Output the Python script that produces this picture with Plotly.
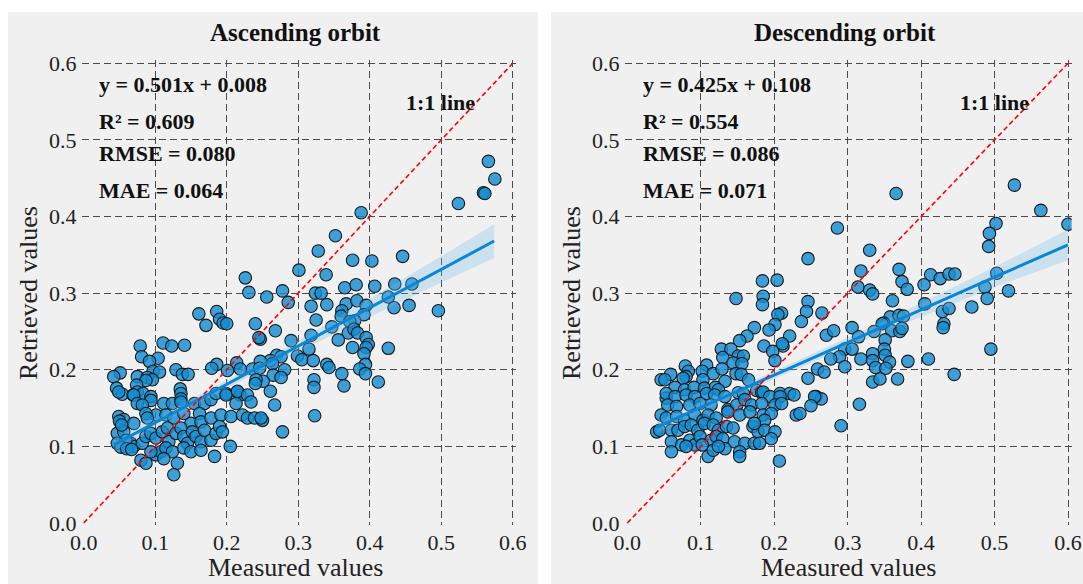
import plotly.graph_objects as go

# ---------------- data ----------------
TITLES = ["Ascending orbit", "Descending orbit"]
X_LABEL = "Measured values"
Y_LABEL = "Retrieved values"
TICK_VALS = [0.0, 0.1, 0.2, 0.3, 0.4, 0.5, 0.6]
TICK_TEXT = ["0.0", "0.1", "0.2", "0.3", "0.4", "0.5", "0.6"]
ASC_STATS = ["y = 0.501x + 0.008", "R² = 0.609", "RMSE = 0.080", "MAE = 0.064"]
DESC_STATS = ["y = 0.425x + 0.108", "R² = 0.554", "RMSE = 0.086", "MAE = 0.071"]
ONE_TO_ONE_LABEL = "1:1 line"
ONE_TO_ONE = [0.0, 0.6]

ASC_POINTS = [
    (0.566, 0.472), (0.575, 0.449), (0.559, 0.431), (0.561, 0.430), (0.524, 0.417),
    (0.388, 0.405), (0.352, 0.375), (0.328, 0.355), (0.376, 0.343), (0.403, 0.342),
    (0.446, 0.348), (0.339, 0.324), (0.301, 0.330), (0.278, 0.303), (0.256, 0.295),
    (0.286, 0.288), (0.324, 0.300), (0.332, 0.300), (0.365, 0.307), (0.381, 0.311),
    (0.407, 0.309), (0.435, 0.312), (0.459, 0.312), (0.426, 0.295), (0.318, 0.283),
    (0.340, 0.285), (0.367, 0.286), (0.382, 0.290), (0.395, 0.284), (0.434, 0.281),
    (0.455, 0.284), (0.496, 0.277), (0.361, 0.277), (0.360, 0.270), (0.392, 0.272),
    (0.325, 0.265), (0.379, 0.264), (0.347, 0.256), (0.372, 0.263), (0.268, 0.251),
    (0.247, 0.240), (0.318, 0.245), (0.370, 0.248), (0.378, 0.253), (0.383, 0.248),
    (0.290, 0.238), (0.356, 0.239), (0.395, 0.242), (0.398, 0.233), (0.376, 0.229),
    (0.395, 0.229), (0.426, 0.228), (0.315, 0.227), (0.392, 0.221), (0.270, 0.219),
    (0.276, 0.217), (0.299, 0.218), (0.305, 0.213), (0.321, 0.212), (0.261, 0.212),
    (0.247, 0.211), (0.264, 0.208), (0.340, 0.207), (0.343, 0.203), (0.394, 0.207),
    (0.386, 0.201), (0.281, 0.200), (0.361, 0.195), (0.394, 0.195), (0.265, 0.193),
    (0.276, 0.190), (0.251, 0.185), (0.322, 0.187), (0.322, 0.177), (0.364, 0.179),
    (0.412, 0.184), (0.261, 0.172), (0.267, 0.154), (0.323, 0.140), (0.250, 0.134),
    (0.278, 0.119),
    (0.226, 0.320), (0.231, 0.301), (0.161, 0.273), (0.186, 0.276), (0.171, 0.258),
    (0.190, 0.266), (0.195, 0.261), (0.200, 0.260), (0.240, 0.260), (0.245, 0.242),
    (0.079, 0.231), (0.111, 0.235), (0.123, 0.231), (0.141, 0.232), (0.081, 0.217),
    (0.104, 0.215), (0.092, 0.211), (0.186, 0.207), (0.179, 0.202), (0.214, 0.209),
    (0.201, 0.199), (0.219, 0.201), (0.236, 0.201), (0.246, 0.202), (0.097, 0.198),
    (0.106, 0.197), (0.051, 0.196), (0.042, 0.191), (0.129, 0.200), (0.138, 0.194),
    (0.146, 0.194), (0.075, 0.191), (0.089, 0.190), (0.096, 0.187), (0.087, 0.186),
    (0.046, 0.176), (0.074, 0.180), (0.075, 0.171), (0.054, 0.168), (0.083, 0.169),
    (0.135, 0.175), (0.136, 0.169), (0.069, 0.167), (0.094, 0.165), (0.199, 0.169),
    (0.215, 0.171), (0.241, 0.187), (0.240, 0.182), (0.219, 0.167),
    (0.049, 0.171), (0.070, 0.167), (0.094, 0.160), (0.112, 0.156), (0.124, 0.156),
    (0.136, 0.162), (0.136, 0.158), (0.155, 0.156), (0.169, 0.156), (0.178, 0.161),
    (0.185, 0.169), (0.199, 0.167), (0.215, 0.172), (0.229, 0.167), (0.234, 0.158),
    (0.213, 0.156), (0.075, 0.156), (0.082, 0.154), (0.101, 0.141), (0.087, 0.143),
    (0.049, 0.139), (0.056, 0.135), (0.070, 0.130), (0.089, 0.137), (0.115, 0.141),
    (0.126, 0.137), (0.140, 0.143), (0.150, 0.130), (0.162, 0.143), (0.164, 0.132),
    (0.178, 0.137), (0.192, 0.141), (0.206, 0.139), (0.222, 0.141), (0.229, 0.137),
    (0.239, 0.137), (0.248, 0.137), (0.047, 0.117), (0.056, 0.119), (0.066, 0.104),
    (0.070, 0.100), (0.059, 0.108), (0.082, 0.104), (0.087, 0.113), (0.094, 0.117),
    (0.101, 0.111), (0.110, 0.119), (0.117, 0.124), (0.119, 0.106), (0.129, 0.117),
    (0.136, 0.124), (0.140, 0.113), (0.145, 0.104), (0.152, 0.119), (0.157, 0.113),
    (0.164, 0.106), (0.169, 0.121), (0.178, 0.108), (0.185, 0.117), (0.190, 0.126),
    (0.194, 0.119), (0.080, 0.082), (0.087, 0.078), (0.101, 0.089), (0.108, 0.093),
    (0.115, 0.098), (0.124, 0.093), (0.131, 0.078), (0.140, 0.098), (0.150, 0.093),
    (0.164, 0.095), (0.126, 0.063), (0.183, 0.087), (0.205, 0.100), (0.094, 0.093),
    (0.112, 0.084), (0.047, 0.104), (0.052, 0.099), (0.060, 0.097), (0.067, 0.096),
    (0.050, 0.133), (0.053, 0.128),
]

DESC_POINTS = [
    (0.527, 0.441), (0.366, 0.430), (0.563, 0.408), (0.502, 0.391), (0.600, 0.390),
    (0.493, 0.378), (0.492, 0.361), (0.286, 0.385), (0.246, 0.345), (0.330, 0.356),
    (0.318, 0.329), (0.370, 0.331), (0.374, 0.315), (0.381, 0.305), (0.314, 0.308),
    (0.330, 0.304), (0.334, 0.299), (0.413, 0.324), (0.426, 0.319), (0.438, 0.325),
    (0.446, 0.325), (0.404, 0.311), (0.503, 0.326), (0.487, 0.308), (0.490, 0.293),
    (0.519, 0.303), (0.265, 0.274), (0.361, 0.290), (0.405, 0.286), (0.429, 0.276),
    (0.438, 0.280), (0.469, 0.282), (0.358, 0.269), (0.370, 0.271), (0.376, 0.270),
    (0.431, 0.260), (0.430, 0.255), (0.306, 0.255), (0.349, 0.261), (0.347, 0.260),
    (0.336, 0.250), (0.360, 0.251), (0.371, 0.250), (0.374, 0.254), (0.271, 0.245),
    (0.281, 0.251), (0.315, 0.243), (0.351, 0.239), (0.296, 0.227), (0.306, 0.227),
    (0.350, 0.227), (0.495, 0.227), (0.351, 0.219), (0.289, 0.217), (0.277, 0.214),
    (0.318, 0.214), (0.334, 0.221), (0.334, 0.212), (0.357, 0.210), (0.382, 0.211),
    (0.410, 0.214), (0.296, 0.204), (0.338, 0.203), (0.352, 0.202), (0.259, 0.201),
    (0.268, 0.197), (0.334, 0.184), (0.344, 0.188), (0.368, 0.188), (0.445, 0.194),
    (0.257, 0.165), (0.264, 0.162), (0.316, 0.155), (0.291, 0.127),
    (0.184, 0.316), (0.204, 0.317), (0.148, 0.293), (0.185, 0.296), (0.184, 0.285),
    (0.246, 0.289), (0.244, 0.276), (0.237, 0.263), (0.210, 0.274), (0.205, 0.272),
    (0.201, 0.259), (0.193, 0.252), (0.173, 0.255), (0.163, 0.244), (0.153, 0.238),
    (0.221, 0.244), (0.186, 0.231), (0.212, 0.231), (0.211, 0.234), (0.198, 0.224),
    (0.201, 0.212), (0.128, 0.227), (0.141, 0.227), (0.130, 0.216), (0.151, 0.218),
    (0.158, 0.218), (0.144, 0.209), (0.156, 0.208), (0.108, 0.206), (0.079, 0.205),
    (0.083, 0.198), (0.080, 0.191), (0.076, 0.189), (0.102, 0.198), (0.117, 0.195),
    (0.129, 0.201), (0.148, 0.195), (0.155, 0.194), (0.059, 0.194), (0.046, 0.187),
    (0.051, 0.187), (0.103, 0.187), (0.133, 0.185), (0.165, 0.187), (0.246, 0.189),
    (0.065, 0.177), (0.078, 0.174), (0.091, 0.177), (0.105, 0.176), (0.120, 0.177),
    (0.124, 0.174), (0.151, 0.170), (0.176, 0.173), (0.183, 0.170), (0.208, 0.169),
    (0.221, 0.169), (0.053, 0.163),
    (0.053, 0.169), (0.065, 0.165), (0.080, 0.167), (0.092, 0.165), (0.108, 0.169),
    (0.119, 0.167), (0.133, 0.165), (0.158, 0.169), (0.185, 0.171), (0.194, 0.165),
    (0.208, 0.165), (0.227, 0.167), (0.255, 0.165), (0.055, 0.154), (0.067, 0.152),
    (0.085, 0.154), (0.099, 0.156), (0.114, 0.154), (0.137, 0.148), (0.149, 0.154),
    (0.160, 0.161), (0.169, 0.154), (0.183, 0.156), (0.201, 0.154), (0.210, 0.156),
    (0.250, 0.153), (0.046, 0.141), (0.053, 0.137), (0.067, 0.139), (0.078, 0.134),
    (0.092, 0.141), (0.103, 0.134), (0.110, 0.141), (0.121, 0.137), (0.137, 0.145),
    (0.153, 0.141), (0.167, 0.145), (0.185, 0.141), (0.196, 0.143), (0.187, 0.134),
    (0.230, 0.141), (0.235, 0.143), (0.040, 0.119), (0.044, 0.121), (0.060, 0.121),
    (0.069, 0.121), (0.078, 0.126), (0.087, 0.128), (0.096, 0.121), (0.105, 0.130),
    (0.117, 0.128), (0.124, 0.121), (0.135, 0.126), (0.144, 0.124), (0.171, 0.126),
    (0.178, 0.119), (0.187, 0.121), (0.201, 0.119), (0.173, 0.130), (0.060, 0.106),
    (0.074, 0.102), (0.085, 0.108), (0.092, 0.102), (0.099, 0.113), (0.114, 0.108),
    (0.121, 0.113), (0.130, 0.110), (0.146, 0.106), (0.160, 0.104), (0.173, 0.104),
    (0.180, 0.104), (0.196, 0.110), (0.060, 0.093), (0.080, 0.100), (0.110, 0.087),
    (0.117, 0.095), (0.133, 0.097), (0.153, 0.093), (0.153, 0.087), (0.207, 0.081),
    (0.102, 0.102), (0.124, 0.100),
]

ASC_FIT_X = [0.042, 0.1, 0.2, 0.3, 0.4, 0.5, 0.574]
ASC_FIT_Y = [0.102, 0.131, 0.181, 0.231, 0.281, 0.331, 0.368]
ASC_FIT_HI = [0.111, 0.137, 0.186, 0.238, 0.293, 0.348, 0.390]
ASC_FIT_LO = [0.093, 0.125, 0.176, 0.224, 0.269, 0.314, 0.346]

DESC_FIT_X = [0.040, 0.1, 0.2, 0.3, 0.4, 0.5, 0.6]
DESC_FIT_Y = [0.125, 0.151, 0.193, 0.236, 0.278, 0.321, 0.363]
DESC_FIT_HI = [0.133, 0.157, 0.198, 0.242, 0.287, 0.334, 0.383]
DESC_FIT_LO = [0.117, 0.145, 0.188, 0.230, 0.269, 0.308, 0.343]

# ---------------- styling / layout ----------------
W, H = 1083, 584
FONT = "Liberation Serif, Times New Roman, serif"
PT_FILL = "rgba(20,140,210,0.82)"
PT_EDGE = "#1a1a1a"
FIT_COLOR = "#0a86d4"
BAND_COLOR = "rgba(110,185,235,0.28)"
GRID_COLOR = "#4a4a4a"


def px_x(p):
    return p / W


def px_y(p):
    return 1 - p / H


panels = [
    dict(points=ASC_POINTS, fx=ASC_FIT_X, fy=ASC_FIT_Y, hi=ASC_FIT_HI, lo=ASC_FIT_LO,
         stats=ASC_STATS, title=TITLES[0], xa="x", ya="y",
         dom=(81.5, 515.6), xr=(-0.0031, 0.6040), bg=(8, 538),
         title_x=295, stat_x=97, one_x=440, ylab_x=28, xlab_x=295),
    dict(points=DESC_POINTS, fx=DESC_FIT_X, fy=DESC_FIT_Y, hi=DESC_FIT_HI, lo=DESC_FIT_LO,
         stats=DESC_STATS, title=TITLES[1], xa="x2", ya="y2",
         dom=(624.6, 1071.6), xr=(-0.0037, 0.6049), bg=(551, 1083),
         title_x=845, stat_x=641, one_x=994, ylab_x=571, xlab_x=848),
]

fig = go.Figure()
shapes = []
annotations = []
STAT_Y = [84, 121, 153, 190]

for i, p in enumerate(panels):
    xs = [pt[0] for pt in p["points"]]
    ys = [pt[1] for pt in p["points"]]
    fig.add_trace(go.Scatter(
        x=xs, y=ys, mode="markers", xaxis=p["xa"], yaxis=p["ya"],
        marker=dict(size=12.5, color=PT_FILL, line=dict(color=PT_EDGE, width=1.1)),
        showlegend=False, hoverinfo="skip"))
    fig.add_trace(go.Scatter(
        x=p["fx"], y=p["hi"], mode="lines", line=dict(width=0, color=BAND_COLOR),
        xaxis=p["xa"], yaxis=p["ya"], showlegend=False, hoverinfo="skip"))
    fig.add_trace(go.Scatter(
        x=p["fx"], y=p["lo"], mode="lines", line=dict(width=0, color=BAND_COLOR),
        fill="tonexty", fillcolor=BAND_COLOR,
        xaxis=p["xa"], yaxis=p["ya"], showlegend=False, hoverinfo="skip"))
    fig.add_trace(go.Scatter(
        x=p["fx"], y=p["fy"], mode="lines", line=dict(width=3, color=FIT_COLOR),
        xaxis=p["xa"], yaxis=p["ya"], showlegend=False, hoverinfo="skip"))
    fig.add_trace(go.Scatter(
        x=ONE_TO_ONE, y=ONE_TO_ONE, mode="lines",
        line=dict(width=1.6, color="#ff0000", dash="5px,3px"),
        xaxis=p["xa"], yaxis=p["ya"], showlegend=False, hoverinfo="skip"))

    # gray panel background
    shapes.append(dict(type="rect", xref="paper", yref="paper",
                       x0=px_x(p["bg"][0]), x1=px_x(p["bg"][1]),
                       y0=px_y(584), y1=px_y(12),
                       fillcolor="#f0f0f0", line=dict(width=0), layer="below"))

    axis_common = dict(
        tickvals=TICK_VALS, ticktext=TICK_TEXT, showgrid=True,
        gridcolor=GRID_COLOR, gridwidth=1.2, griddash="7px,4px",
        zeroline=True, zerolinecolor="rgba(0,0,0,0)", zerolinewidth=1,
        showline=False, ticks="", tickfont=dict(family=FONT, size=22, color="#222"),
        fixedrange=True, automargin=False,
    )
    xname = "xaxis" if i == 0 else "xaxis2"
    yname = "yaxis" if i == 0 else "yaxis2"
    fig.update_layout({
        xname: dict(axis_common, domain=[px_x(p["dom"][0]), px_x(p["dom"][1])],
                    range=list(p["xr"]), anchor=p["ya"], ticklabelstandoff=2),
        yname: dict(axis_common, domain=[px_y(525), px_y(60)],
                    range=[-0.0026, 0.6043], anchor=p["xa"], ticklabelstandoff=4),
    })

    annotations.append(dict(text="<b>" + p["title"] + "</b>", xref="paper", yref="paper",
                            x=px_x(p["title_x"]), y=px_y(32), showarrow=False,
                            xanchor="center", yanchor="middle",
                            font=dict(family=FONT, size=25, color="#111")))
    for s, sy in zip(p["stats"], STAT_Y):
        annotations.append(dict(text="<b>" + s + "</b>", xref="paper", yref="paper",
                                x=px_x(p["stat_x"]), y=px_y(sy), showarrow=False,
                                xanchor="left", yanchor="middle",
                                font=dict(family=FONT, size=22, color="#111")))
    annotations.append(dict(text="<b>" + ONE_TO_ONE_LABEL + "</b>", xref="paper", yref="paper",
                            x=px_x(p["one_x"]), y=px_y(103), showarrow=False,
                            xanchor="center", yanchor="middle",
                            font=dict(family=FONT, size=22, color="#111")))
    annotations.append(dict(text=X_LABEL, xref="paper", yref="paper",
                            x=px_x(p["xlab_x"]), y=px_y(567), showarrow=False,
                            xanchor="center", yanchor="middle",
                            font=dict(family=FONT, size=26, color="#222")))
    annotations.append(dict(text=Y_LABEL, xref="paper", yref="paper",
                            x=px_x(p["ylab_x"]), y=px_y(293), showarrow=False,
                            textangle=-90, xanchor="center", yanchor="middle",
                            font=dict(family=FONT, size=26, color="#222")))

fig.update_layout(
    width=W, height=H,
    margin=dict(l=0, r=0, t=0, b=0, pad=0, autoexpand=False),
    paper_bgcolor="white", plot_bgcolor="white",
    shapes=shapes, annotations=annotations, showlegend=False,
)

fig.write_html(
    "out.html",
    config={"displayModeBar": False},
    post_script="document.body.style.margin='0px';document.body.style.overflow='hidden';",
)
